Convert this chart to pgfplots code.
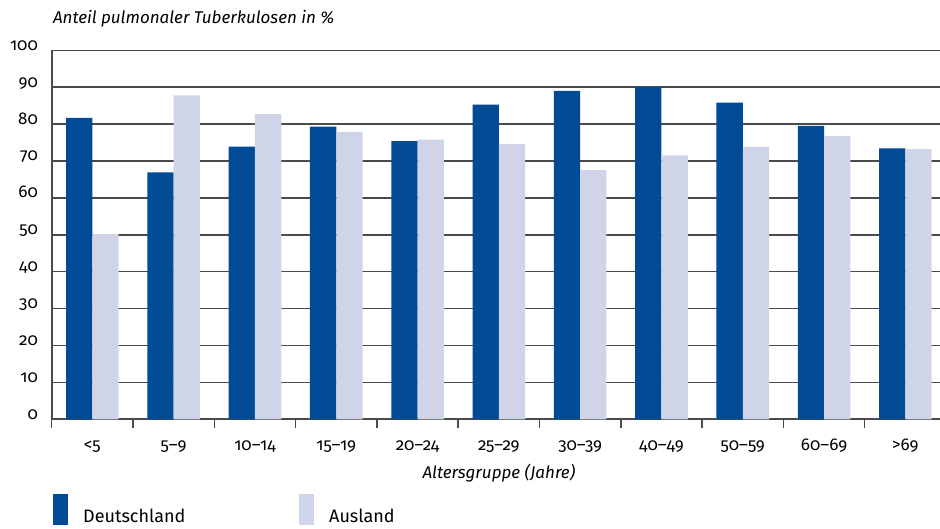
\documentclass[border=0pt]{standalone}
\usepackage{fontspec}
\setmainfont{Fira Sans}[Numbers=OldStyle]
\usepackage{pgfplots}
\pgfplotsset{compat=1.18}
\definecolor{dblue}{HTML}{004A96}
\definecolor{lblue}{HTML}{CFD4E8}
\definecolor{gridc}{HTML}{4A4A4A}
\begin{document}
\fontsize{17pt}{20pt}\selectfont
\begin{tikzpicture}[x=1pt,y=1pt]
\path[use as bounding box] (0,0) rectangle (940,529);
\begin{axis}[
  at={(51.7pt,109.7pt)}, anchor=south west,
  scale only axis, width=894.3pt, height=369pt,
  xmin=-0.5, xmax=10.5, ymin=0, ymax=100,
  axis x line*=bottom, axis y line*=left,
  axis line style={-, draw=gridc, line width=1.6pt},
  ybar=0pt, bar width=26.3pt,
  ytick={0,10,...,100},
  ymajorgrids, grid style={draw=gridc, line width=1.5pt},
  xtick={0,...,10},
  xticklabels={<5,5–9,10–14,15–19,20–24,25–29,30–39,40–49,50–59,60–69,>69},
  minor xtick={-0.5,0.5,...,10.5},
  tick align=outside,
  major tick length=0pt,
  minor tick length=9pt,
  minor x tick style={draw=gridc, line width=1.5pt},
  /pgf/number format/assume math mode=true,
  yticklabel style={anchor=base east, xshift=-8pt},
  xticklabel style={anchor=base, yshift=-31.5pt},
  title={Anteil pulmonaler Tuberkulosen in \%},
  title style={at={(0,1)}, anchor=base west, xshift=-4.5pt, yshift=21pt, font=\itshape},
  xlabel={Altersgruppe (Jahre)},
  xlabel style={at={(0.5,0)}, anchor=base, yshift=-59.5pt, font=\itshape},
  legend style={at={(0,0)}, anchor=north west, xshift=1.3pt, yshift=-74.7pt,
    draw=none, fill=none, inner sep=0pt, legend columns=2,
    font=\fontsize{18pt}{20pt}\selectfont,
    /tikz/every odd column/.append style={column sep=13pt}},
  legend cell align=left,
  legend image code/.code={\fill[#1] (0pt,-8pt) rectangle (15pt,23pt);},
]
\addplot[fill=dblue, draw=none] coordinates {
 (0,81.7) (1,66.9) (2,73.9) (3,79.3) (4,75.4) (5,85.3) (6,89.0) (7,90.0) (8,85.8) (9,79.5) (10,73.4)};
\addlegendentry{\makebox[214pt][l]{Deutschland}}
\addplot[fill=lblue, draw=none] coordinates {
 (0,50.2) (1,87.8) (2,82.7) (3,77.9) (4,75.8) (5,74.6) (6,67.5) (7,71.5) (8,73.8) (9,76.8) (10,73.2)};
\addlegendentry{Ausland}
\end{axis}
\end{tikzpicture}
\end{document}
